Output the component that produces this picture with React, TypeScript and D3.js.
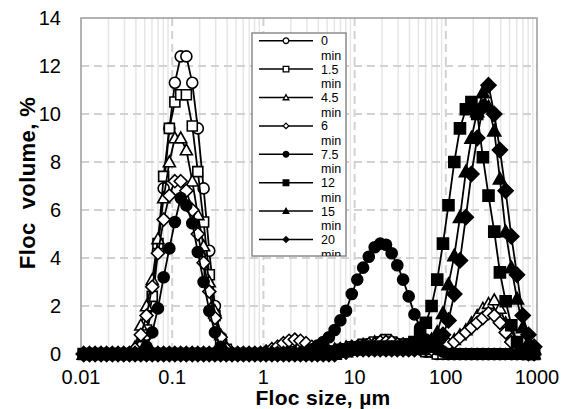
import React from "react";
import * as d3 from "d3";

// particle size bins, µm (16 per decade)
const sizes = [
  0.0107, 0.0124, 0.0143, 0.0166, 0.0191, 0.0221, 0.0255, 0.0294, 0.034, 0.0392, 0.0453, 0.0523, 0.0604, 0.0698, 0.0806, 0.0931,
  0.107, 0.124, 0.143, 0.166, 0.191, 0.221, 0.255, 0.294, 0.34, 0.392, 0.453, 0.523, 0.604, 0.698, 0.806, 0.931,
  1.07, 1.24, 1.43, 1.66, 1.91, 2.21, 2.55, 2.94, 3.4, 3.92, 4.53, 5.23, 6.04, 6.98, 8.06, 9.31,
  10.7, 12.4, 14.3, 16.6, 19.1, 22.1, 25.5, 29.4, 34, 39.2, 45.3, 52.3, 60.4, 69.8, 80.6, 93.1,
  107, 124, 143, 166, 191, 221, 255, 294, 340, 392, 453, 523, 604, 698, 806, 931,
];

const vol0 = [
  0, 0, 0, 0, 0, 0, 0, 0, 0, 0, 0.2, 0.8, 2.0, 4.3, 6.9, 9.4,
  11.3, 12.4, 12.4, 11.3, 9.4, 6.9, 4.3, 2.0, 0.7, 0.1, 0, 0, 0, 0, 0, 0,
  0, 0, 0, 0, 0, 0, 0, 0, 0, 0, 0, 0, 0.1, 0.1, 0.2, 0.2,
  0.3, 0.3, 0.4, 0.4, 0.5, 0.5, 0.4, 0.4, 0.3, 0.3, 0.2, 0.2, 0.1, 0.1, 0, 0,
  0, 0, 0, 0, 0, 0, 0, 0, 0, 0, 0, 0, 0, 0, 0, 0,
];
const vol15 = [
  0, 0, 0, 0, 0, 0, 0, 0, 0, 0, 0.3, 1.0, 2.4, 4.6, 7.4, 9.4,
  10.5, 10.8, 10.8, 9.5, 7.6, 5.5, 3.3, 1.6, 0.6, 0.2, 0, 0, 0, 0, 0, 0,
  0, 0, 0, 0, 0, 0, 0, 0, 0, 0, 0, 0, 0.1, 0.2, 0.2, 0.3,
  0.3, 0.4, 0.4, 0.5, 0.5, 0.6, 0.5, 0.4, 0.4, 0.3, 0.2, 0.2, 0.1, 0.1, 0, 0,
  0, 0, 0, 0, 0, 0, 0, 0, 0, 0, 0, 0, 0, 0, 0, 0,
];
const vol45 = [
  0, 0, 0, 0, 0, 0, 0, 0, 0, 0.3, 1.2, 2.0, 3.1, 4.8, 6.5, 8.0,
  9.0, 9.0, 8.5, 7.2, 5.8, 4.5, 3.0, 1.8, 0.8, 0.3, 0, 0, 0, 0, 0, 0,
  0.1, 0.2, 0.3, 0.4, 0.5, 0.5, 0.4, 0.3, 0.2, 0.1, 0.1, 0.1, 0.2, 0.2, 0.3, 0.3,
  0.3, 0.4, 0.4, 0.5, 0.5, 0.5, 0.4, 0.4, 0.3, 0.3, 0.2, 0.2, 0.2, 0.2, 0.3, 0.3,
  0.4, 0.6, 0.8, 1.0, 1.3, 1.6, 1.9, 2.1, 2.25, 1.9, 1.3, 0.7, 0.3, 0.1, 0, 0,
];
const vol6 = [
  0, 0, 0, 0, 0, 0, 0, 0, 0, 0.2, 0.8, 1.6, 2.8, 4.2, 5.6, 6.6,
  7.2, 7.2, 6.8, 6.0, 5.0, 3.8, 2.6, 1.5, 0.7, 0.2, 0, 0, 0, 0, 0, 0,
  0.1, 0.2, 0.3, 0.45, 0.55, 0.6, 0.55, 0.45, 0.3, 0.2, 0.1, 0.1, 0.1, 0.2, 0.2, 0.3,
  0.3, 0.3, 0.4, 0.4, 0.5, 0.5, 0.5, 0.4, 0.4, 0.3, 0.3, 0.2, 0.2, 0.2, 0.3, 0.3,
  0.4, 0.5, 0.7, 0.9, 1.1, 1.3, 1.5, 1.7, 1.6, 1.3, 0.9, 0.5, 0.2, 0.1, 0, 0,
];
const vol75 = [
  0, 0, 0, 0, 0, 0, 0, 0, 0, 0, 0, 0.3, 0.9, 1.9, 3.2, 4.4,
  5.5, 6.5, 6.2, 5.45, 4.25, 3.0, 1.8, 0.9, 0.3, 0, 0, 0, 0, 0, 0, 0,
  0, 0, 0, 0, 0, 0, 0, 0, 0.2, 0.35, 0.5, 0.7, 1.0, 1.4, 1.8, 2.5,
  3.1, 3.6, 4.05, 4.45, 4.6, 4.55, 4.2, 3.7, 3.1, 2.4, 1.65, 1.1, 0.6, 0.3, 0.2, 0.1,
  0, 0, 0, 0, 0, 0, 0, 0, 0, 0, 0, 0, 0, 0, 0, 0,
];
const vol12 = [
  0, 0, 0, 0, 0, 0, 0, 0, 0, 0, 0, 0, 0, 0, 0, 0,
  0, 0, 0, 0, 0, 0, 0, 0, 0, 0, 0, 0, 0, 0, 0, 0,
  0, 0, 0, 0, 0, 0, 0, 0, 0, 0, 0, 0, 0.1, 0.1, 0.2, 0.2,
  0.2, 0.3, 0.3, 0.3, 0.3, 0.3, 0.3, 0.3, 0.3, 0.4, 0.5, 0.8, 1.3, 2.0, 3.1, 4.6,
  6.2, 8.0, 9.4, 10.2, 10.5, 10.0, 8.2, 6.6, 5.1, 3.4, 2.2, 1.2, 0.5, 0.2, 0, 0,
];
const vol15m = [
  0, 0, 0, 0, 0, 0, 0, 0, 0, 0, 0, 0, 0, 0, 0, 0,
  0, 0, 0, 0, 0, 0, 0, 0, 0, 0, 0, 0, 0, 0, 0, 0,
  0, 0, 0, 0, 0, 0, 0, 0, 0, 0, 0, 0, 0, 0.1, 0.1, 0.2,
  0.2, 0.2, 0.2, 0.2, 0.2, 0.2, 0.2, 0.2, 0.2, 0.2, 0.3, 0.3, 0.4, 0.6, 0.9, 1.7,
  2.9, 4.1, 5.7, 7.6, 9.0, 10.1, 10.9, 10.3, 9.3, 7.3, 5.1, 3.6, 2.3, 1.1, 0.5, 0.2,
];
const vol20 = [
  0, 0, 0, 0, 0, 0, 0, 0, 0, 0, 0, 0, 0, 0, 0, 0,
  0, 0, 0, 0, 0, 0, 0, 0, 0, 0, 0, 0, 0, 0, 0, 0,
  0, 0, 0, 0, 0, 0, 0, 0, 0, 0, 0, 0, 0, 0.1, 0.1, 0.2,
  0.2, 0.2, 0.2, 0.2, 0.2, 0.2, 0.2, 0.2, 0.2, 0.2, 0.2, 0.3, 0.3, 0.4, 0.5, 0.8,
  1.4, 2.5, 3.9, 5.7, 7.5, 9.0, 10.3, 11.2, 10.0, 8.5, 6.8, 4.9, 3.3, 1.6, 0.8, 0.3,
];

const timeLabels = ["0", "1.5", "4.5", "6", "7.5", "12", "15", "20"];
const xTicks = [0.01, 0.1, 1, 10, 100, 1000];
const yTicks = [0, 2, 4, 6, 8, 10, 12, 14];

const series = [
  { label: timeLabels[0], values: vol0, shape: "circle", filled: false, r: 5.5 },
  { label: timeLabels[1], values: vol15, shape: "square", filled: false, r: 5 },
  { label: timeLabels[2], values: vol45, shape: "triangle", filled: false, r: 6 },
  { label: timeLabels[3], values: vol6, shape: "diamond", filled: false, r: 6.5 },
  { label: timeLabels[4], values: vol75, shape: "circle", filled: true, r: 5.5 },
  { label: timeLabels[5], values: vol12, shape: "square", filled: true, r: 5.5 },
  { label: timeLabels[6], values: vol15m, shape: "triangle", filled: true, r: 6.5 },
  { label: timeLabels[7], values: vol20, shape: "diamond", filled: true, r: 7.5 },
];

const FONT = "'Liberation Sans', Arial, sans-serif";

function markerPath(shape: string, h: number) {
  if (shape === "circle") return `M${-h},0a${h},${h} 0 1,0 ${2 * h},0a${h},${h} 0 1,0 ${-2 * h},0Z`;
  if (shape === "square") return `M${-h},${-h}h${2 * h}v${2 * h}h${-2 * h}Z`;
  if (shape === "triangle") return `M0,${-h}L${h},${h * 0.8}L${-h},${h * 0.8}Z`;
  return `M0,${-h}L${h},0L0,${h}L${-h},0Z`;
}

export default function App() {
  const width = 574;
  const height = 409;
  const x = d3.scaleLog().domain([0.01, 1000]).range([81, 537]);
  const y = d3.scaleLinear().domain([0, 14]).range([354, 18]);

  const minor: number[] = [];
  for (let d = 0.01; d < 1000; d *= 10) {
    for (let k = 2; k <= 9; k++) minor.push(d * k);
  }

  const line = d3
    .line<number>()
    .x((_, i) => x(sizes[i]))
    .y((v) => y(v));

  // legend layout
  const lg = { x: 252, y: 33, w: 94, h: 223 };
  const rowH = 28.4;

  return (
    <svg
      width={width}
      height={height}
      style={{ position: "absolute", left: 0, top: 0, background: "#fff" }}
      fontFamily={FONT}
    >
      <rect x={0} y={0} width={width} height={height} fill="#fff" />

      {/* minor gridlines */}
      {minor.map((m) => (
        <line key={"m" + m} x1={x(m)} x2={x(m)} y1={y(14)} y2={y(0)} stroke="#e6e6e6" strokeWidth={1.5} />
      ))}
      {/* major gridlines */}
      {xTicks.slice(1, -1).map((t) => (
        <line key={"vx" + t} x1={x(t)} x2={x(t)} y1={y(14)} y2={y(0)} stroke="#d2d2d2" strokeWidth={2} strokeDasharray="8,5" />
      ))}
      {yTicks.slice(1, -1).map((t) => (
        <line key={"hy" + t} x1={x(0.01)} x2={x(1000)} y1={y(t)} y2={y(t)} stroke="#d2d2d2" strokeWidth={2} strokeDasharray="8,5" />
      ))}

      <rect x={81} y={18} width={456} height={336} fill="none" stroke="#9a9a9a" strokeWidth={1.5} />

      {/* series */}
      {series.map((s, si) => (
        <g key={"s" + si}>
          <path d={line(s.values) || ""} fill="none" stroke="#000" strokeWidth={1.8} />
          {s.values.map((v, i) => (
            <path
              key={i}
              d={markerPath(s.shape, s.r)}
              transform={`translate(${x(sizes[i])},${y(v)})`}
              fill={s.filled ? "#000" : "#fff"}
              stroke="#000"
              strokeWidth={1.6}
            />
          ))}
        </g>
      ))}

      {/* axis tick labels */}
      {yTicks.map((t) => (
        <text key={"yt" + t} x={61} y={y(t) + 7} textAnchor="end" fontSize={20} fill="#000">
          {t}
        </text>
      ))}
      {xTicks.map((t) => (
        <text key={"xt" + t} x={x(t)} y={384} textAnchor="middle" fontSize={20} fill="#000">
          {t}
        </text>
      ))}

      {/* axis titles */}
      <text x={323} y={405} textAnchor="middle" fontSize={21} fontWeight="bold" letterSpacing={0.3} fill="#000">
        Floc size, µm
      </text>
      <text
        transform="translate(35,183) rotate(-90)"
        textAnchor="middle"
        fontSize={22}
        fontWeight="bold"
        letterSpacing={0.4}
        fill="#000"
        style={{ whiteSpace: "pre" }}
      >
        {"Floc  volume, %"}
      </text>

      {/* legend */}
      <defs>
        <clipPath id="lgclip">
          <rect x={lg.x} y={lg.y} width={lg.w} height={lg.h} />
        </clipPath>
      </defs>
      <rect x={lg.x} y={lg.y} width={lg.w} height={lg.h} fill="#fff" stroke="#8c8c8c" strokeWidth={1.5} />
      <g clipPath="url(#lgclip)">
        {series.map((s, si) => {
          const ly = 40.7 + si * rowH;
          return (
            <g key={"lg" + si}>
              <line x1={259} x2={313} y1={ly} y2={ly} stroke="#000" strokeWidth={1.5} />
              <path
                d={markerPath(s.shape, 2.8)}
                transform={`translate(286,${ly})`}
                fill={s.filled ? "#000" : "#fff"}
                stroke="#000"
                strokeWidth={1.3}
              />
              <text x={321} y={ly + 4.5} fontSize={12.5} fill="#000">
                {s.label}
              </text>
              <text x={321} y={ly + 19} fontSize={12.5} fill="#000">
                min
              </text>
            </g>
          );
        })}
      </g>
    </svg>
  );
}
